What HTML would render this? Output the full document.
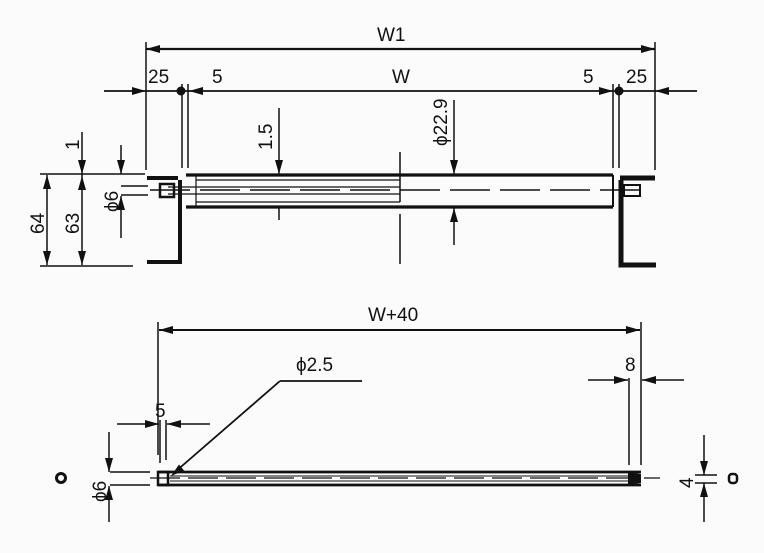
<!DOCTYPE html>
<html><head><meta charset="utf-8"><style>
html,body{margin:0;padding:0;background:#fafbfa;}
svg{display:block;}
text{font-family:"Liberation Sans",sans-serif;fill:#111;font-size:19px;}
</style></head><body>
<svg width="764" height="553" viewBox="0 0 764 553" xmlns="http://www.w3.org/2000/svg">
<g stroke="#111" fill="none" stroke-width="1.5">
<line x1="146" y1="49" x2="655" y2="49" stroke-width="2.2"/>
<line x1="146" y1="42" x2="146" y2="170"/>
<line x1="655" y1="42" x2="655" y2="170"/>
<line x1="104" y1="91" x2="697" y2="91" stroke-width="1.8"/>
<line x1="182" y1="84" x2="182" y2="168"/>
<line x1="188" y1="84" x2="188" y2="168"/>
<line x1="613" y1="84" x2="613" y2="168"/>
<line x1="619" y1="84" x2="619" y2="168"/>
</g>
<circle cx="181" cy="91" r="4.5" fill="#111"/>
<circle cx="619" cy="91" r="4.5" fill="#111"/>
<text x="148" y="83">25</text>
<text x="212" y="83">5</text>
<text x="377" y="41">W1</text>
<text x="392" y="83">W</text>
<text x="583" y="83">5</text>
<text x="626" y="83">25</text>

<g stroke="#111" fill="none">
<line x1="186" y1="175" x2="613" y2="175" stroke-width="3.2"/>
<line x1="186" y1="207" x2="613" y2="207" stroke-width="3.2"/>
<line x1="196" y1="180" x2="400" y2="180" stroke-width="1.2"/>
<line x1="196" y1="202" x2="400" y2="202" stroke-width="1.2"/>
<line x1="168" y1="187" x2="400" y2="187" stroke-width="1.3"/>
<line x1="168" y1="194" x2="400" y2="194" stroke-width="1.3"/>
<line x1="150" y1="190" x2="640" y2="190" stroke-width="1.5" stroke-dasharray="40,10"/>
<line x1="613" y1="175" x2="613" y2="207" stroke-width="2"/>
<line x1="196" y1="176" x2="196" y2="206" stroke-width="1.2"/>
<path d="M147,178 H178" stroke-width="4"/>
<path d="M180,180 V262 H147" stroke-width="4"/>
<rect x="160" y="184" width="14" height="13" stroke-width="2.5"/>
<path d="M620,178 H655" stroke-width="5"/>
<path d="M621,180 V265 H656" stroke-width="5"/>
<rect x="624" y="185" width="16" height="11" stroke-width="2"/>
<line x1="400" y1="152" x2="400" y2="275" stroke-width="1.5" stroke-dasharray="50,12"/>
</g>
<g stroke="#111" fill="none" stroke-width="1.5">
<line x1="279" y1="108" x2="279" y2="174"/>
<line x1="279" y1="207" x2="279" y2="220"/>
<line x1="454" y1="100" x2="454" y2="174"/>
<line x1="454" y1="245" x2="454" y2="208"/>
<line x1="40" y1="174" x2="145" y2="174"/>
<line x1="40" y1="266" x2="133" y2="266"/>
<line x1="47" y1="175" x2="47" y2="265"/>
<line x1="82" y1="132" x2="82" y2="265"/>
<line x1="121" y1="145" x2="121" y2="174"/>
<line x1="121" y1="238" x2="121" y2="196"/>
<line x1="121" y1="186" x2="148" y2="186"/>
<line x1="121" y1="195" x2="148" y2="195"/>
</g>
<text transform="translate(79,150) rotate(-90)">1</text>
<text transform="translate(44,234) rotate(-90)">64</text>
<text transform="translate(79,234) rotate(-90)">63</text>
<text transform="translate(118,212) rotate(-90)">ϕ6</text>
<text transform="translate(272,150) rotate(-90)">1.5</text>
<text transform="translate(447,146) rotate(-90)">ϕ22.9</text>

<g stroke="#111" fill="none" stroke-width="1.5">
<line x1="159" y1="330" x2="640" y2="330" stroke-width="2"/>
<line x1="158" y1="322" x2="158" y2="455"/>
<line x1="641" y1="322" x2="641" y2="465"/>
<line x1="629" y1="378" x2="629" y2="465"/>
<line x1="588" y1="380" x2="628" y2="380"/>
<line x1="684" y1="380" x2="642" y2="380"/>
<line x1="117" y1="424" x2="159" y2="424"/>
<line x1="210" y1="424" x2="167" y2="424"/>
<line x1="160" y1="420" x2="160" y2="463"/>
<line x1="166" y1="420" x2="166" y2="460"/>
<line x1="158" y1="472" x2="641" y2="472" stroke-width="2.7"/>
<line x1="158" y1="485" x2="641" y2="485" stroke-width="2.7"/>
<line x1="170" y1="476" x2="630" y2="476" stroke-width="1"/>
<line x1="170" y1="481" x2="630" y2="481" stroke-width="1"/>
<line x1="150" y1="478" x2="660" y2="478" stroke-width="1.2" stroke-dasharray="30,8"/>
<rect x="158" y="472" width="10" height="13" stroke-width="2.5"/>
<line x1="110" y1="472" x2="150" y2="472"/>
<line x1="110" y1="485" x2="150" y2="485"/>
<line x1="109" y1="432" x2="109" y2="472"/>
<line x1="109" y1="522" x2="109" y2="486"/>
<line x1="695" y1="475" x2="717" y2="475"/>
<line x1="695" y1="483" x2="717" y2="483"/>
<line x1="704" y1="435" x2="704" y2="475"/>
<line x1="704" y1="522" x2="704" y2="483"/>
<line x1="280" y1="381" x2="362" y2="381" stroke-width="1.8"/>
<line x1="280" y1="381" x2="175" y2="472" stroke-width="1.8"/>
</g>
<g fill="#111" stroke="none">
<path d="M146,49 L160,45 L160,53 z"/>
<path d="M655,49 L641,45 L641,53 z"/>
<path d="M146,91 L132,87 L132,95 z"/>
<path d="M189,91 L203,87 L203,95 z"/>
<path d="M613,91 L599,87 L599,95 z"/>
<path d="M655,91 L669,87 L669,95 z"/>
<path d="M279,174 L275,160 L283,160 z"/>
<path d="M454,174 L450,160 L458,160 z"/>
<path d="M454,208 L450,222 L458,222 z"/>
<path d="M47,175 L43,189 L51,189 z"/>
<path d="M47,265 L43,251 L51,251 z"/>
<path d="M82,174 L78,160 L86,160 z"/>
<path d="M82,176 L78,190 L86,190 z"/>
<path d="M82,265 L78,251 L86,251 z"/>
<path d="M121,174 L117,160 L125,160 z"/>
<path d="M121,196 L117,210 L125,210 z"/>
<path d="M159,330 L173,326 L173,334 z"/>
<path d="M640,330 L626,326 L626,334 z"/>
<path d="M628,380 L614,376 L614,384 z"/>
<path d="M642,380 L656,376 L656,384 z"/>
<path d="M159,424 L145,420 L145,428 z"/>
<path d="M167,424 L181,420 L181,428 z"/>
<path d="M109,472 L105,458 L113,458 z"/>
<path d="M109,486 L105,500 L113,500 z"/>
<path d="M704,475 L700,461 L708,461 z"/>
<path d="M704,483 L700,497 L708,497 z"/>
<path d="M171,476 L184,470.5 L179,464.5 z"/>
<path d="M628,472 L641,474 L641,483 L628,485 z"/>
</g>
<circle cx="61" cy="478" r="4.5" fill="none" stroke="#111" stroke-width="3"/>
<rect x="729" y="474" width="8" height="9" rx="3" fill="none" stroke="#111" stroke-width="2.5"/>
<text x="368" y="321">W+40</text>
<text x="296" y="371">ϕ2.5</text>
<text x="155" y="417">5</text>
<text x="625" y="371">8</text>
<text transform="translate(106,502) rotate(-90)">ϕ6</text>
<text transform="translate(693,488) rotate(-90)">4</text>
</svg>
</body></html>
